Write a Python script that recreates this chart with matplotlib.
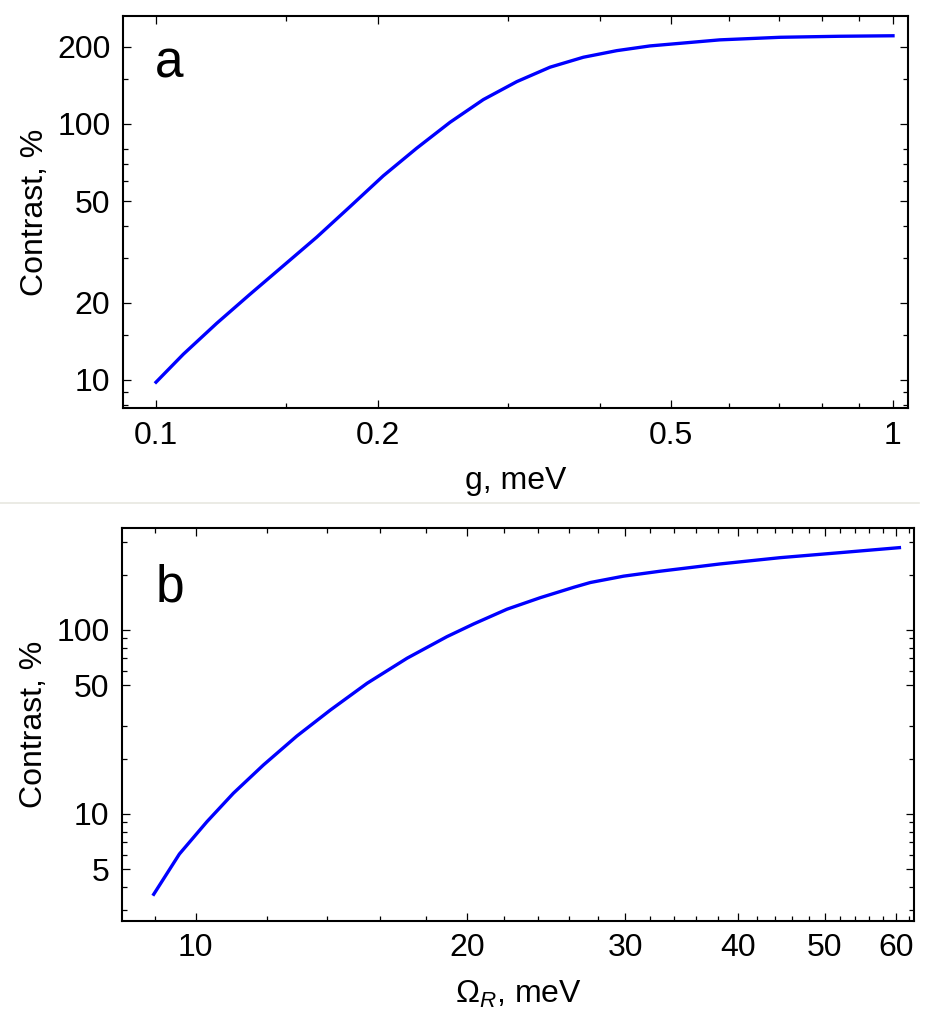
import numpy as np
import matplotlib
matplotlib.use("Agg")
import matplotlib.pyplot as plt
from matplotlib.ticker import FixedLocator, NullFormatter, FixedFormatter
from matplotlib.lines import Line2D

plt.rcParams['font.family'] = ['Liberation Sans', 'DejaVu Sans']
plt.rcParams['mathtext.fontset'] = 'custom'
plt.rcParams['mathtext.rm'] = 'Liberation Sans'
plt.rcParams['mathtext.it'] = 'Liberation Sans:italic'

# panel a: contrast vs g
g_mev = [0.100, 0.1089, 0.1209, 0.1341, 0.1488, 0.1652, 0.1833, 0.2034,
         0.2258, 0.2506, 0.2781, 0.3087, 0.3425, 0.3801, 0.4218, 0.468,
         0.582, 0.703, 0.845, 1.000]
contrast_a = [9.8, 12.6, 16.65, 21.6, 27.9, 36.1, 47.5, 62.7,
              80.4, 101.5, 124.5, 146.3, 166.6, 182.2, 193.3, 201.7,
              213, 218, 220, 221]

# panel b: contrast vs Omega_R
omega_r = [8.98, 9.59, 10.29, 11.01, 11.89, 12.95, 14.11, 15.50, 17.17,
           19.01, 20.36, 22.17, 24.15, 26.30, 27.44, 29.88, 32.81, 38.26,
           44.6, 52.0, 60.5]
contrast_b = [3.66, 6.06, 9.08, 12.96, 18.46, 26.5, 36.7, 51.3, 70.2,
              91.9, 107.8, 129.6, 149.8, 170.5, 181, 196.0, 208.5, 228.4,
              247, 263, 280]

a_xmajor = [0.1, 0.2, 0.5, 1]
a_xlabels = ["0.1", "0.2", "0.5", "1"]
a_xminor = [0.15, 0.3, 0.4, 0.6, 0.7, 0.8, 0.9]
a_ymajor = [10, 20, 50, 100, 200]
a_ylabels = ["10", "20", "50", "100", "200"]
a_yminor = [8, 9, 15, 30, 40, 60, 70, 80, 150]

b_xmajor = [10, 20, 30, 40, 50, 60]
b_xlabels = ["10", "20", "30", "40", "50", "60"]
b_xminor = [9] + list(range(12, 20, 2)) + list(range(22, 30, 2)) + \
           list(range(32, 40, 2)) + list(range(42, 50, 2)) + list(range(52, 60, 2)) + [62]
b_ymajor = [5, 10, 50, 100]
b_ylabels = ["5", "10", "50", "100"]
b_yminor = [3, 4, 6, 7, 8, 9, 20, 30, 60, 70, 80, 90, 200, 300]

W, H = 933, 1026
fig = plt.figure(figsize=(W / 100, H / 100), dpi=100)


def style_axes(ax, xmaj, xlab, xmin, ymaj, ylab, ymin):
    ax.set_xscale('log')
    ax.set_yscale('log')
    ax.xaxis.set_major_locator(FixedLocator(xmaj))
    ax.xaxis.set_major_formatter(FixedFormatter(xlab))
    ax.xaxis.set_minor_locator(FixedLocator(xmin))
    ax.xaxis.set_minor_formatter(NullFormatter())
    ax.yaxis.set_major_locator(FixedLocator(ymaj))
    ax.yaxis.set_major_formatter(FixedFormatter(ylab))
    ax.yaxis.set_minor_locator(FixedLocator(ymin))
    ax.yaxis.set_minor_formatter(NullFormatter())
    ax.tick_params(which='both', direction='in', top=True, right=True,
                   labelsize=23, colors='black')
    ax.tick_params(which='major', length=6, width=0.9, pad=9)
    ax.tick_params(which='minor', length=3.6, width=0.9)
    for s in ax.spines.values():
        s.set_linewidth(1.5)


# panel a
ax1 = fig.add_axes([123 / W, 1 - 408 / H, (908 - 123) / W, (408 - 16) / H])
ax1.plot(g_mev, contrast_a, color='#0000ff', lw=2.4)
style_axes(ax1, a_xmajor, a_xlabels, a_xminor, a_ymajor, a_ylabels, a_yminor)
ax1.set_xlim(0.0902, 1.048)
ax1.set_ylim(7.77, 264)
ax1.set_xlabel("g, meV", fontsize=23, labelpad=11)
ax1.set_ylabel("Contrast, %", fontsize=23, labelpad=5)
ax1.text(155 / W, 1 - 77 / H, "a", transform=fig.transFigure, fontsize=37,
         ha='left', va='baseline')

# panel b
ax2 = fig.add_axes([122 / W, 1 - 921 / H, (914 - 122) / W, (921 - 528) / H])
ax2.plot(omega_r, contrast_b, color='#0000ff', lw=2.4)
style_axes(ax2, b_xmajor, b_xlabels, b_xminor, b_ymajor, b_ylabels, b_yminor)
ax2.set_xlim(8.28, 62.8)
ax2.set_ylim(2.62, 358)
ax2.set_xlabel(r"$\Omega_{\mathit{R}}$, meV", fontsize=23, labelpad=11)
ax2.set_ylabel("Contrast, %", fontsize=23, labelpad=5)
ax2.text(156 / W, 1 - 602 / H, "b", transform=fig.transFigure, fontsize=37,
         ha='left', va='baseline')

# faint separator between the two panels
fig.add_artist(Line2D([0, 0.985], [1 - 503 / H, 1 - 503 / H], color='#e8e8e0',
                      lw=1.2, transform=fig.transFigure))

fig.savefig("out.png", dpi=100)
